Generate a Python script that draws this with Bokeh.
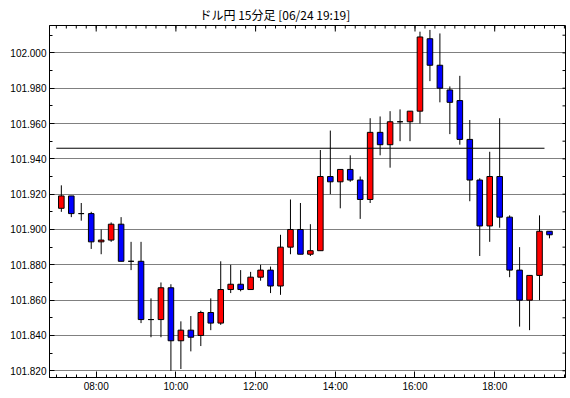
from bokeh.plotting import figure
from bokeh.models import FixedTicker, NumeralTickFormatter, Range1d
from bokeh.embed import file_html
from bokeh.resources import INLINE

# ---- data (15-minute USD/JPY candles) ----
times = ["07:00", "07:15", "07:30", "07:45", "08:00", "08:15", "08:30", "08:45",
         "09:00", "09:15", "09:30", "09:45", "10:00", "10:15", "10:30", "10:45",
         "11:00", "11:15", "11:30", "11:45", "12:00", "12:15", "12:30", "12:45",
         "13:00", "13:15", "13:30", "13:45", "14:00", "14:15", "14:30", "14:45",
         "15:00", "15:15", "15:30", "15:45", "16:00", "16:15", "16:30", "16:45",
         "17:00", "17:15", "17:30", "17:45", "18:00", "18:15", "18:30", "18:45",
         "19:00", "19:15"]
opens = [101.912, 101.919, 101.909, 101.909, 101.893, 101.894, 101.903, 101.882,
         101.882, 101.849, 101.849, 101.867, 101.837, 101.843, 101.840, 101.853,
         101.847, 101.866, 101.869, 101.866, 101.873, 101.877, 101.868, 101.890,
         101.900, 101.886, 101.888, 101.930, 101.927, 101.934, 101.928, 101.917,
         101.955, 101.948, 101.961, 101.961, 101.967, 102.008, 101.993, 101.979,
         101.973, 101.951, 101.928, 101.902, 101.930, 101.907, 101.877, 101.860,
         101.874, 101.899]
highs = [101.925, 101.919, 101.915, 101.910, 101.900, 101.904, 101.907, 101.893,
         101.893, 101.861, 101.870, 101.869, 101.848, 101.851, 101.854, 101.861,
         101.882, 101.880, 101.877, 101.876, 101.880, 101.879, 101.897, 101.917,
         101.915, 101.903, 101.945, 101.956, 101.934, 101.942, 101.930, 101.963,
         101.964, 101.967, 101.968, 101.967, 102.012, 102.013, 102.011, 101.981,
         101.987, 101.962, 101.929, 101.944, 101.963, 101.908, 101.890, 101.874,
         101.908, 101.899]
lows = [101.910, 101.907, 101.905, 101.889, 101.886, 101.893, 101.882, 101.877,
        101.847, 101.839, 101.839, 101.820, 101.821, 101.831, 101.834, 101.843,
        101.846, 101.864, 101.865, 101.866, 101.871, 101.864, 101.863, 101.886,
        101.886, 101.885, 101.888, 101.920, 101.912, 101.927, 101.906, 101.915,
        101.942, 101.935, 101.950, 101.950, 101.960, 101.984, 101.972, 101.954,
        101.948, 101.916, 101.885, 101.893, 101.901, 101.873, 101.845, 101.843,
        101.860, 101.895]
closes = [101.919, 101.909, 101.909, 101.893, 101.894, 101.903, 101.882, 101.882,
          101.849, 101.849, 101.867, 101.837, 101.843, 101.839, 101.853, 101.847,
          101.866, 101.869, 101.866, 101.873, 101.877, 101.868, 101.890, 101.900,
          101.886, 101.888, 101.930, 101.927, 101.934, 101.928, 101.917, 101.955,
          101.948, 101.961, 101.961, 101.967, 102.009, 101.993, 101.980, 101.972,
          101.951, 101.928, 101.902, 101.930, 101.907, 101.877, 101.860, 101.874,
          101.899, 101.897]
ref_level = 101.946

title_text = "ドル円 15分足 [06/24 19:19]"
y_tick_labels = ["101.820", "101.840", "101.860", "101.880", "101.900",
                 "101.920", "101.940", "101.960", "101.980", "102.000"]
x_tick_labels = ["08:00", "10:00", "12:00", "14:00", "16:00", "18:00"]


def to_hours(s):
    h, m = s.split(":")
    return int(h) + int(m) / 60.0


bar_minutes = 15
xs = [to_hours(t) + bar_minutes / 2 / 60.0 for t in times]
tops = [max(o, c) for o, c in zip(opens, closes)]
bottoms = [min(o, c) for o, c in zip(opens, closes)]
colors = ["#ff0000" if c > o else ("#0000ff" if c < o else "#000000")
          for o, c in zip(opens, closes)]

x_ticks = [to_hours(s) for s in x_tick_labels]
x_minor = [7 + i * 0.25 for i in range(0, 52)]
y_ticks = [float(s) for s in y_tick_labels]
y_minor = [v + 0.01 for v in y_ticks]
y_all = sorted(y_ticks + y_minor)

X0, X1 = 6.828, 19.777
Y0, Y1 = 101.8162, 102.0155
FW, FH = 516, 352
px_x = (X1 - X0) / FW   # data units per pixel
px_y = (Y1 - Y0) / FH

FONT = "Liberation Sans"

p = figure(frame_width=FW, frame_height=FH, output_backend="svg",
           toolbar_location=None,
           x_range=Range1d(X0, X1), y_range=Range1d(Y0, Y1),
           min_border_left=49, min_border_top=21, min_border_right=1,
           min_border_bottom=15, background_fill_color="white",
           border_fill_color="white")

p.title.text = title_text
p.title.align = "left"
p.title.offset = 150
p.title.text_font = "Noto Sans CJK JP"
p.title.text_font_size = "12px"
p.title.text_font_style = "normal"
p.title.text_color = "black"
p.title.standoff = 6

p.outline_line_color = "black"
p.outline_line_alpha = 1
p.outline_line_width = 1

# left axis
ya = p.yaxis[0]
ya.ticker = FixedTicker(ticks=y_ticks, minor_ticks=y_minor)
ya.formatter = NumeralTickFormatter(format="0.000")
ya.major_tick_in = 5
ya.major_tick_out = 0
ya.minor_tick_in = 3
ya.minor_tick_out = 0
ya.major_label_standoff = 3
ya.major_label_text_font = FONT
ya.major_label_text_font_size = "10px"
ya.major_label_text_color = "black"
ya.axis_line_color = "black"

# bottom axis
xa = p.xaxis[0]
xa.ticker = FixedTicker(ticks=x_ticks, minor_ticks=x_minor)
xa.major_label_overrides = {t: s for t, s in zip(x_ticks, x_tick_labels)}
xa.major_tick_in = 6
xa.major_tick_out = 0
xa.minor_tick_in = 3
xa.minor_tick_out = 0
xa.major_label_standoff = 3
xa.major_label_text_font = FONT
xa.major_label_text_font_size = "10px"
xa.major_label_text_color = "black"
xa.axis_line_color = "black"

p.xgrid.visible = False
p.ygrid.grid_line_color = "black"
p.ygrid.grid_line_dash = "1 1"
p.ygrid.grid_line_width = 1
p.ygrid.grid_line_alpha = 1

# tick marks along the top and right edges of the frame (mirrors of the axes)
top_major_len = 6 * px_y
top_minor_len = 3 * px_y
p.segment(x0=x_ticks, x1=x_ticks, y0=[Y1 - top_major_len] * len(x_ticks),
          y1=[Y1] * len(x_ticks), line_color="black", line_width=1)
p.segment(x0=x_minor, x1=x_minor, y0=[Y1 - top_minor_len] * len(x_minor),
          y1=[Y1] * len(x_minor), line_color="black", line_width=1)
right_len = 3 * px_x
p.segment(x0=[X1 - right_len] * len(y_all), x1=[X1] * len(y_all),
          y0=y_all, y1=y_all, line_color="black", line_width=1)

# wicks
p.segment(x0=xs, y0=lows, x1=xs, y1=highs, line_color="black", line_width=1)
# bodies
p.vbar(x=xs, width=0.14, top=tops, bottom=bottoms, fill_color=colors,
       line_color="black", line_width=1)
# reference level line
p.segment(x0=[to_hours(times[0])], y0=[ref_level], x1=[to_hours(times[-1])],
          y1=[ref_level], line_color="black", line_width=1)

open("out.html", "w").write(file_html(p, INLINE))
